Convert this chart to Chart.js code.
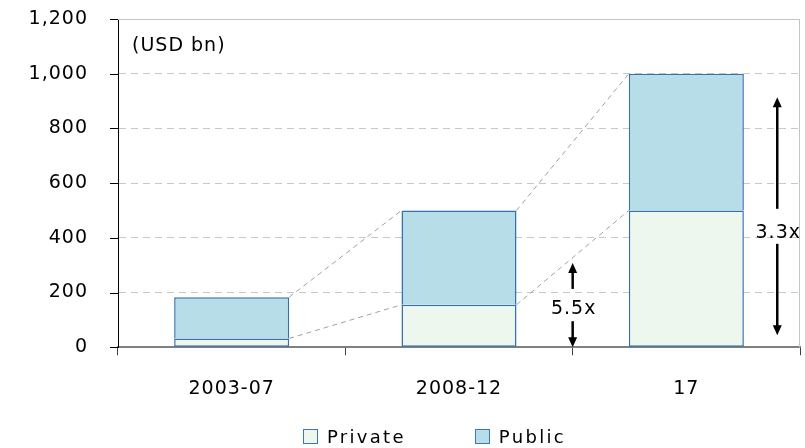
<!DOCTYPE html>
<html>
<head>
<meta charset="utf-8">
<script src="https://cdn.jsdelivr.net/npm/chart.js@4/dist/chart.umd.min.js"></script>
<style>
  html, body { margin: 0; padding: 0; background: #fff; }
  #wrap { position: relative; width: 805px; height: 448px; }
  #legend { position: absolute; left: 303px; top: 426px; font-family: "DejaVu Sans"; font-size: 18px; letter-spacing: 2.3px; color: #000; display: flex; align-items: center; white-space: nowrap; }
  .item { display: flex; align-items: center; }
  .box { width: 13px; height: 13px; border: 1px solid #3a78b5; margin-right: 9px; }
</style>
</head>
<body>
<div id="wrap">
  <canvas id="c" width="805" height="448"></canvas>
  <div id="legend"></div>
</div>
<script>
// ---- data ----
const categories = ['2003-07', '2008-12', '17'];
const privateValues = [32, 155, 500];
const publicValues = [151, 345, 500];
const seriesNames = ['Private', 'Public'];
const yTicks = [0, 200, 400, 600, 800, 1000, 1200];
const unitLabel = '(USD bn)';
const growthLabels = ['5.5x', '3.3x'];

// ---- styles ----
const FONT = '"DejaVu Sans"';
const FSIZE = 19;
const SPACING = '1px';
const privateFill = '#eef7ee';
const publicFill = '#b7dde8';
const barBorder = '#3470ac';

// legend (html text)
const legend = document.getElementById('legend');
[[seriesNames[0], privateFill], [seriesNames[1], publicFill]].forEach(([name, col], i) => {
  const it = document.createElement('div');
  it.className = 'item';
  if (i > 0) it.style.marginLeft = '69px';
  const b = document.createElement('div');
  b.className = 'box';
  b.style.background = col;
  const t = document.createElement('span');
  t.textContent = name;
  it.appendChild(b); it.appendChild(t);
  legend.appendChild(it);
});

function arrow(ctx, x, yTail, yTip) {
  const dir = yTip < yTail ? -1 : 1;
  const head = 10, hw = 4.5;
  ctx.beginPath();
  ctx.moveTo(x, yTail);
  ctx.lineTo(x, yTip - dir * head + dir * 1);
  ctx.stroke();
  ctx.beginPath();
  ctx.moveTo(x, yTip);
  ctx.lineTo(x - hw, yTip - dir * head);
  ctx.lineTo(x + hw, yTip - dir * head);
  ctx.closePath();
  ctx.fill();
}

const spacingPlugin = {
  id: 'spacing',
  beforeLayout(chart) { chart.ctx.letterSpacing = SPACING; },
  beforeDraw(chart) { chart.ctx.letterSpacing = SPACING; }
};

const decorPlugin = {
  id: 'decor',
  beforeDatasetsDraw(chart) {
    const ctx = chart.ctx;
    const ys = chart.scales.y;
    const area = chart.chartArea;
    ctx.save();
    // plot border top and right
    ctx.strokeStyle = '#c4c4c4';
    ctx.lineWidth = 1;
    ctx.setLineDash([]);
    ctx.beginPath();
    ctx.moveTo(area.left, Math.round(area.top) + 0.5);
    ctx.lineTo(area.right, Math.round(area.top) + 0.5);
    ctx.moveTo(Math.round(area.right) - 0.5, area.top);
    ctx.lineTo(Math.round(area.right) - 0.5, area.bottom);
    ctx.stroke();
    // y tick marks (short, outside the axis)
    ctx.strokeStyle = '#000';
    ctx.beginPath();
    ys.ticks.forEach(t => {
      const y = Math.round(ys.getPixelForValue(t.value)) + 0.5;
      ctx.moveTo(area.left - 8, y);
      ctx.lineTo(area.left, y);
    });
    ctx.stroke();
    // connecting dashed lines between bars
    const meta0 = chart.getDatasetMeta(0), meta1 = chart.getDatasetMeta(1);
    ctx.strokeStyle = '#a0a0a0';
    ctx.setLineDash([5, 4]);
    for (let i = 0; i < categories.length - 1; i++) {
      [meta0, meta1].forEach(m => {
        const a = m.data[i], b = m.data[i + 1];
        ctx.beginPath();
        ctx.moveTo(a.x + a.width / 2, a.y);
        ctx.lineTo(b.x - b.width / 2, b.y);
        ctx.stroke();
      });
    }
    ctx.restore();
  },
  afterDatasetsDraw(chart) {
    const ctx = chart.ctx;
    const xs = chart.scales.x, ys = chart.scales.y;
    const area = chart.chartArea;
    ctx.save();
    ctx.letterSpacing = SPACING;
    ctx.fillStyle = '#000';
    ctx.font = FSIZE + 'px ' + FONT;
    ctx.textBaseline = 'middle';
    ctx.textAlign = 'left';
    ctx.fillText(unitLabel, area.left + 14, ys.getPixelForValue(1100));
    // arrows
    const catW = xs.getPixelForValue(1) - xs.getPixelForValue(0);
    const xA = (xs.getPixelForValue(1) + xs.getPixelForValue(2)) / 2;
    const xB = xs.getPixelForValue(2) + 0.4 * catW;
    ctx.strokeStyle = '#000';
    ctx.lineWidth = 2.5;
    arrow(ctx, xA, ys.getPixelForValue(213), ys.getPixelForValue(308));
    arrow(ctx, xA, ys.getPixelForValue(95), ys.getPixelForValue(0));
    arrow(ctx, xB, ys.getPixelForValue(506), ys.getPixelForValue(914));
    arrow(ctx, xB, ys.getPixelForValue(378), ys.getPixelForValue(44));
    ctx.textAlign = 'center';
    ctx.fillText(growthLabels[0], xA + 1, ys.getPixelForValue(139));
    ctx.fillText(growthLabels[1], xB + 1, ys.getPixelForValue(418));
    ctx.restore();
  }
};

new Chart(document.getElementById('c'), {
  type: 'bar',
  data: {
    labels: categories,
    datasets: [
      { label: seriesNames[0], data: privateValues, backgroundColor: privateFill, borderColor: barBorder, borderWidth: 1.5, borderSkipped: false },
      { label: seriesNames[1], data: publicValues, backgroundColor: publicFill, borderColor: barBorder, borderWidth: 1.5, borderSkipped: 'bottom' }
    ]
  },
  options: {
    responsive: false,
    animation: false,
    devicePixelRatio: 1,
    layout: { padding: { left: 0, right: 5, top: 19, bottom: 26 } },
    plugins: { legend: { display: false }, tooltip: { enabled: false } },
    datasets: { bar: { categoryPercentage: 1, barPercentage: 0.506 } },
    scales: {
      x: {
        stacked: true,
        grid: { offset: true, drawOnChartArea: false, tickLength: 8, color: '#404040', lineWidth: 1 },
        border: { color: '#7f7f7f', width: 2 },
        ticks: { color: '#000', font: { family: FONT, size: FSIZE }, padding: 22 }
      },
      y: {
        stacked: true,
        min: 0, max: 1200,
        afterFit(scale) { scale.width = 118; },
        afterBuildTicks(scale) { scale.ticks = yTicks.map(v => ({ value: v })); },
        grid: { color: '#c8c8c8', tickColor: 'rgba(0,0,0,0)', tickLength: 30, lineWidth: 1 },
        border: { color: '#000', width: 1, dash: [7, 5] },
        ticks: { color: '#000', font: { family: FONT, size: FSIZE }, padding: 0 }
      }
    }
  },
  plugins: [spacingPlugin, decorPlugin]
});
</script>
</body>
</html>
